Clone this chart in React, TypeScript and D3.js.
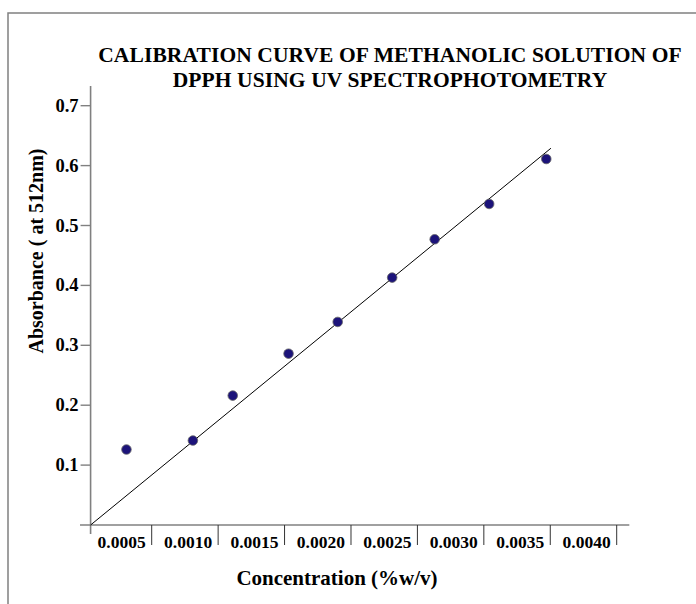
import React from "react";
import * as d3 from "d3";

const concentration = [0.00031, 0.00081, 0.00111, 0.00153, 0.0019, 0.00231, 0.00263, 0.00304, 0.00347];
const absorbance = [0.126, 0.141, 0.216, 0.286, 0.339, 0.413, 0.477, 0.536, 0.611];
const fitX = [0.00004, 0.003505];
const fitY = [0, 0.629];
const xTicks = [0.0005, 0.001, 0.0015, 0.002, 0.0025, 0.003, 0.0035, 0.004];
const xTickLabels = ["0.0005", "0.0010", "0.0015", "0.0020", "0.0025", "0.0030", "0.0035", "0.0040"];
const yTicks = [0.1, 0.2, 0.3, 0.4, 0.5, 0.6, 0.7];
const yTickLabels = ["0.1", "0.2", "0.3", "0.4", "0.5", "0.6", "0.7"];
const titleLines = ["CALIBRATION CURVE OF METHANOLIC SOLUTION OF", "DPPH USING UV SPECTROPHOTOMETRY"];
const xTitle = "Concentration (%w/v)";
const yTitle = "Absorbance ( at 512nm)";

export default function App() {
  const W = 696, H = 604;
  const x = d3.scaleLinear().domain([0.0005, 0.004]).range([151.7, 616.7]);
  const y = d3.scaleLinear().domain([0, 0.7]).range([525, 105.7]);
  const x0 = x(0.00004);
  const xEnd = x(0.004095);
  const y0 = y(0);
  const yTop = y(0.733);
  const font = "'Liberation Serif', 'Times New Roman', serif";
  const line = d3.line<number>().x((d) => x(fitX[d])).y((d) => y(fitY[d]));
  return (
    <svg width={W} height={H} style={{ position: "absolute", left: 0, top: 0, background: "#fff" }} fontFamily={font}>
      <rect x={8} y={13} width={W + 20} height={H + 20} fill="#fff" stroke="#808080" strokeWidth={1.5} />
      {titleLines.map((t, i) => (
        <text key={i} x={390} y={62 + i * 25} textAnchor="middle" fontWeight="bold" fontSize={21.5} letterSpacing={0.1}>{t}</text>
      ))}
      <line x1={80} x2={xEnd} y1={y0} y2={y0} stroke="#808080" strokeWidth={1.6} />
      <line x1={x0} x2={x0} y1={yTop} y2={y0 + 9} stroke="#808080" strokeWidth={1.6} />
      {yTicks.map((v, i) => (
        <g key={i}>
          <line x1={x0 - 10} x2={x0} y1={y(v)} y2={y(v)} stroke="#808080" strokeWidth={1.4} />
          <text x={x0 - 12} y={y(v) + 6} textAnchor="end" fontWeight="bold" fontSize={18.5}>{yTickLabels[i]}</text>
        </g>
      ))}
      {xTicks.map((v, i) => (
        <g key={i}>
          <line x1={x(v)} x2={x(v)} y1={y0} y2={y0 + 20} stroke="#333" strokeWidth={1} />
          <text x={x(v) - 6} y={y0 + 23} textAnchor="end" fontWeight="bold" fontSize={17.5}>{xTickLabels[i]}</text>
        </g>
      ))}
      <path d={line([0, 1]) || ""} stroke="#000" strokeWidth={1} fill="none" />
      {concentration.map((c, i) => (
        <circle key={i} cx={x(c)} cy={y(absorbance[i])} r={4.8} fill="#1c137a" stroke="#666" strokeWidth={0.8} />
      ))}
      <text x={337} y={585} textAnchor="middle" fontWeight="bold" fontSize={21}>{xTitle}</text>
      <text transform={`translate(43,251) rotate(-90)`} textAnchor="middle" fontWeight="bold" fontSize={20}>{yTitle}</text>
    </svg>
  );
}
